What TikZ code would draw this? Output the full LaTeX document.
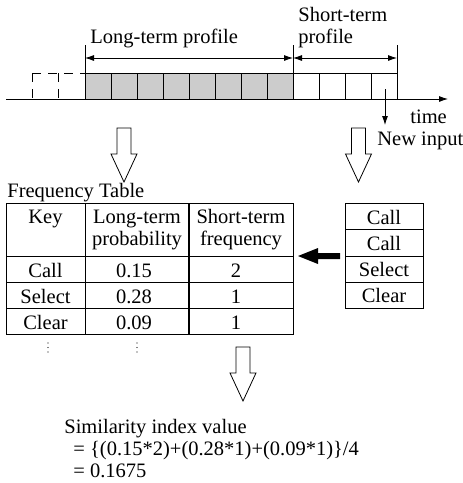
\documentclass[tikz,border=0pt]{standalone}
\usepackage{fontspec}
\setmainfont{Liberation Serif}
\newfontfamily\diagfont{Liberation Serif}
\usetikzlibrary{arrows.meta}

\begin{document}
\begin{tikzpicture}[x=1pt, y=-1pt, line width=0.8pt,
    every node/.style={font=\diagfont\fontsize{20.5}{22}\selectfont, inner sep=0pt},
    lbl/.style={anchor=base west},
    cell/.style={anchor=base},
    olddash/.style={dash pattern=on 9pt off 7pt}]
            \useasboundingbox (0,0) rectangle (463,483);

            % Zeitachse mit Profilen
            \fill[black!20] (85,73) rectangle (293,99);
            \draw (85,73) -- (397,73);
            \foreach \x in {85,111,...,397}
                \draw (\x,73) -- (\x,99);
            \draw[olddash] (32,73) -- (85,73);
            \draw[olddash] (32,73) -- (32,99);
            \draw[olddash] (58,73) -- (58,99);
            \coordinate (axisstart) at (6,99);
            \coordinate (axisend) at (448,99);
            \draw[-{Latex[length=9pt,width=6pt]}] (axisstart) -- (axisend);

            % Begrenzungen
            \coordinate (longleft) at (85,58);
            \coordinate (border) at (293,58);
            \coordinate (shortright) at (397,58);
            \draw (85,45) -- (85,73);
            \draw (293,45) -- (293,73);
            \draw (397,45) -- (397,73);
            \draw[{Latex[length=9pt,width=6pt]}-{Latex[length=9pt,width=6pt]}] (longleft) -- (border);
            \draw[{Latex[length=9pt,width=6pt]}-{Latex[length=9pt,width=6pt]}] (border) -- (shortright);
            \node[lbl] (longlbl) at (90,43) {Long-term profile};
            \node[lbl] (shortlbl) at (298,21) {Short-term};
            \node[lbl] (shortlblb) at (298,43) {profile};
            \node[lbl] (timelbl) at (410,123) {time};

            % Neue Eingabe
            \coordinate (newfrom) at (385,89);
            \coordinate (newto) at (385,125);
            \draw[-{Latex[length=9pt,width=6pt]}] (newfrom) -- (newto);
            \node[lbl] (newlbl) at (377,145) {New input};

            % Hohlpfeile
            \foreach \cx/\ty in {124/128, 358.5/128, 243/347}
                \draw (\cx-7,\ty) -- (\cx+7,\ty) -- (\cx+7,\ty+26) -- (\cx+13,\ty+26)
                    -- (\cx,\ty+54) -- (\cx-13,\ty+26) -- (\cx-7,\ty+26) -- cycle;

            % Haeufigkeitstabelle
            \node[lbl] (tablelbl) at (7,197) {Frequency Table};
            \draw (6,203) rectangle (293,334);
            \draw (85,203) -- (85,334);
            \draw[line width=2.2pt] (189,203) -- (189,334);
            \foreach \y in {256,282,308}
                \draw (6,\y) -- (293,\y);
            \node[cell] (keyhead) at (45.5,223) {Key};
            \node[cell] (longhead) at (137,223) {Long-term};
            \node[cell] (longheadb) at (137,245) {probability};
            \node[cell] (shorthead) at (241,223) {Short-term};
            \node[cell] (shortheadb) at (241,245) {frequency};
            \foreach \k/\p/\f [count=\i] in {Call/0.15/2, Select/0.28/1, Clear/0.09/1} {
                \node[cell] (key\i) at (45.5,251+26*\i) {\k};
                \node[cell] (prob\i) at (134,251+26*\i) {\p};
                \node[cell] (freq\i) at (236,251+26*\i) {\f};
            }
            % Auslassungspunkte
            \foreach \x in {48,137}
                \foreach \y in {343,347.5,352}
                    \fill (\x,\y) circle (0.6pt);

            % Kurzzeitliste
            \draw (345,203) rectangle (423,308);
            \foreach \y in {229,256,282}
                \draw (345,\y) -- (423,\y);
            \foreach \k [count=\i] in {Call, Call, Select, Clear}
                \node[cell] (inp\i) at (384,198+26*\i) {\k};

            % Pfeil zur Tabelle
            \coordinate (listwest) at (340,256);
            \coordinate (tableeast) at (298,256);
            \fill (listwest) ++(0,-3) -- ++(-22,0) -- ++(0,-5) -- (tableeast)
                -- ++(20,8) -- ++(0,-5) -- ++(22,0) -- cycle;

            % Ergebnis
            \node[lbl] (simlbl) at (64,433) {Similarity index value};
            \node[lbl] (simcalc) at (73,455) {= \{(0.15*2)+(0.28*1)+(0.09*1)\}/4};
            \node[lbl] (simres) at (73,477) {= 0.1675};
\end{tikzpicture}
\end{document}
